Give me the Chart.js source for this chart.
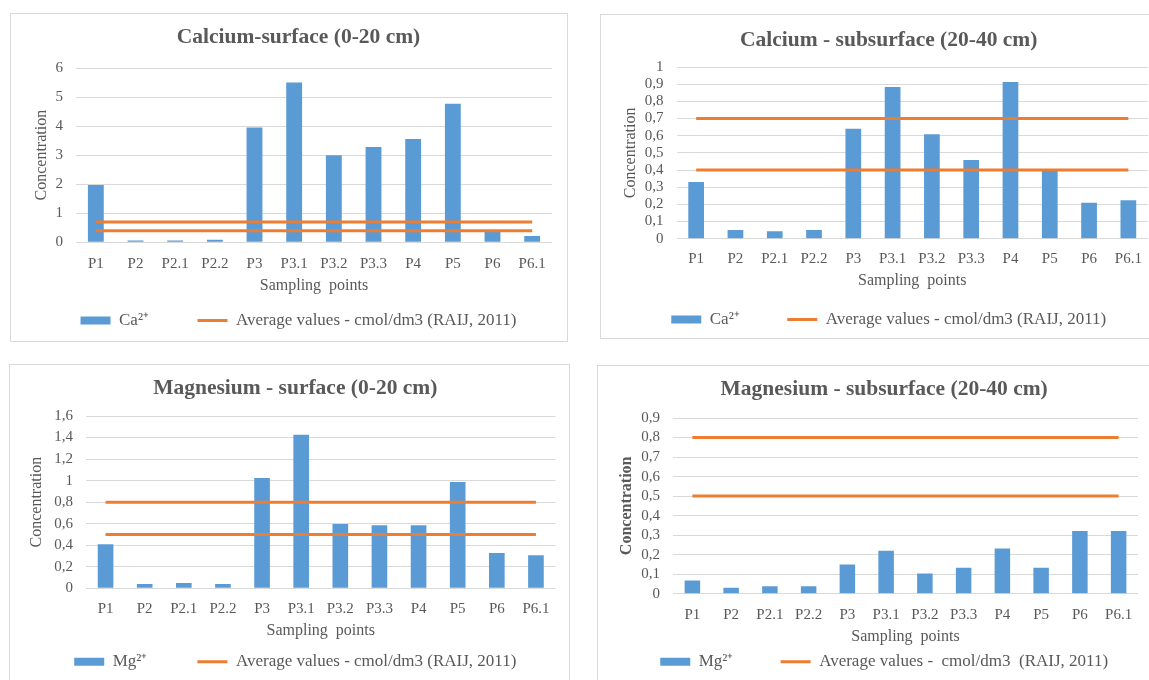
<!DOCTYPE html>
<html>
<head>
<meta charset="utf-8">
<title>Calcium and magnesium in soil samples</title>
<script src="https://cdn.jsdelivr.net/npm/chart.js@4.4.1/dist/chart.umd.min.js"></script>
<style>
  html, body { margin: 0; padding: 0; background: #ffffff; width: 1149px; height: 680px; overflow: hidden; position: relative; }
  canvas { position: absolute; }
  .frame { position: absolute; border: 1px solid #d9d9d9; box-sizing: border-box; pointer-events: none; }
</style>
</head>
<body>
<canvas id="caSurface"></canvas>
<canvas id="caSubsurface"></canvas>
<canvas id="mgSurface"></canvas>
<canvas id="mgSubsurface"></canvas>
<script>
// Sampling points (x categories)
const categories = ['P1', 'P2', 'P2.1', 'P2.2', 'P3', 'P3.1', 'P3.2', 'P3.3', 'P4', 'P5', 'P6', 'P6.1'];

// Calcium, 0-20 cm
const calciumSurface = [1.97, 0.06, 0.06, 0.09, 3.95, 5.5, 3.0, 3.28, 3.56, 4.77, 0.38, 0.22];
const calciumSurfaceUpper = [0.7, 0.7, 0.7, 0.7, 0.7, 0.7, 0.7, 0.7, 0.7, 0.7, 0.7, 0.7];
const calciumSurfaceLower = [0.4, 0.4, 0.4, 0.4, 0.4, 0.4, 0.4, 0.4, 0.4, 0.4, 0.4, 0.4];

// Calcium, 20-40 cm
const calciumSubsurface = [0.33, 0.05, 0.044, 0.05, 0.64, 0.884, 0.608, 0.458, 0.912, 0.40, 0.21, 0.224];
const calciumSubsurfaceUpper = [0.7, 0.7, 0.7, 0.7, 0.7, 0.7, 0.7, 0.7, 0.7, 0.7, 0.7, 0.7];
const calciumSubsurfaceLower = [0.4, 0.4, 0.4, 0.4, 0.4, 0.4, 0.4, 0.4, 0.4, 0.4, 0.4, 0.4];

// Magnesium, 0-20 cm
const magnesiumSurface = [0.41, 0.04, 0.05, 0.04, 1.025, 1.425, 0.597, 0.585, 0.585, 0.987, 0.328, 0.306];
const magnesiumSurfaceUpper = [0.8, 0.8, 0.8, 0.8, 0.8, 0.8, 0.8, 0.8, 0.8, 0.8, 0.8, 0.8];
const magnesiumSurfaceLower = [0.5, 0.5, 0.5, 0.5, 0.5, 0.5, 0.5, 0.5, 0.5, 0.5, 0.5, 0.5];

// Magnesium, 20-40 cm
const magnesiumSubsurface = [0.067, 0.031, 0.038, 0.038, 0.149, 0.22, 0.104, 0.133, 0.232, 0.133, 0.321, 0.321];
const magnesiumSubsurfaceUpper = [0.8, 0.8, 0.8, 0.8, 0.8, 0.8, 0.8, 0.8, 0.8, 0.8, 0.8, 0.8];
const magnesiumSubsurfaceLower = [0.5, 0.5, 0.5, 0.5, 0.5, 0.5, 0.5, 0.5, 0.5, 0.5, 0.5, 0.5];

// Y axis ranges [max, step]
const caSurfaceAxis = [6, 1];
const caSubsurfaceAxis = [1, 0.1];
const mgSurfaceAxis = [1.6, 0.2];
const mgSubsurfaceAxis = [0.9, 0.1];

// ---- styling ----
const FONT = '"Liberation Serif", "Times New Roman", serif';
const TEXT = '#595959';
const GRID = '#d9d9d9';
const BAR = '#5b9bd5';
const REF = '#ed7d31';
const SIZE = { title: 21.5, tick: 15, axisTitle: 16, legend: 17 };
const MARK_W = 30;

Chart.defaults.font.family = FONT;
Chart.defaults.color = TEXT;

const commaTick = (v) => String(Number(v.toFixed(2))).replace('.', ',');

// frame: page geometry of the bordered box, the plot rectangle and text anchors
function drawPanel(canvasId, frame, spec) {
  const [bx0, by0, bx1, by1] = frame.box;
  const W = bx1 - bx0, H = by1 - by0;
  const canvas = document.getElementById(canvasId);
  canvas.width = W; canvas.height = H;
  canvas.style.left = bx0 + 'px'; canvas.style.top = by0 + 'px';
  canvas.style.width = W + 'px'; canvas.style.height = H + 'px';

  const border = document.createElement('div');
  border.className = 'frame';
  Object.assign(border.style, { left: bx0 + 'px', top: by0 + 'px', width: W + 'px', height: H + 'px' });
  document.body.appendChild(border);

  const plotL = frame.plot[0] - bx0, plotT = frame.plot[1] - by0;
  const plotR = frame.plot[2] - bx0, plotB = frame.plot[3] - by0;

  // legend row: two items separated by a wide gap
  const ctx = canvas.getContext('2d');
  ctx.font = SIZE.legend + 'px ' + FONT;
  const item1 = MARK_W + SIZE.legend / 2 + ctx.measureText(spec.barLabel).width;
  const item2 = MARK_W + SIZE.legend / 2 + ctx.measureText(spec.refLabel).width;
  const gap = frame.legendX[1] - frame.legendX[0] - item1;
  const legendMid = frame.legendX[0] - bx0 + (item1 + gap + item2) / 2;

  // title and legend share one horizontal band centred here
  const mid = (frame.titleX - bx0 + legendMid) / 2;
  const padLeft = mid - W;
  const padRight = W - (mid + W);

  // the label padding doubles as the item gap; an empty legend title of
  // negative height takes that space back so the legend box stays compact
  const legendTitleFont = 2;
  const legendTitlePad = -(legendTitleFont * 1.2 + gap);
  const legendH = SIZE.legend + 10;
  const padBottom = H - (frame.legendY - by0) - SIZE.legend / 2 - 10;
  const legendTop = H - padBottom - legendH;

  const titleLH = SIZE.title * 1.2;
  const titleTop = frame.titleY - by0 - titleLH / 2;
  const titleBottom = plotT - titleTop - titleLH;

  const axisLH = SIZE.axisTitle * 1.2;
  const tickLH = SIZE.tick * 1.2;
  const xTickPad = frame.xTickY - frame.plot[3] - tickLH / 2 - 6;
  const xTitlePad = legendTop - axisLH / 2 - (frame.xTitleY - by0);
  const yTitlePad = (frame.yTitleX - bx0) - padLeft - axisLH / 2;

  return new Chart(canvas, {
    data: {
      labels: categories,
      datasets: [
        { type: 'bar', label: spec.barLabel, data: spec.values, backgroundColor: BAR,
          barPercentage: 0.4, categoryPercentage: 1, order: 1 },
        { type: 'line', label: spec.refLabel, data: spec.upper, borderColor: REF, backgroundColor: REF,
          borderWidth: 3, pointRadius: 0, fill: false, order: 0 },
        { type: 'line', label: spec.refLabel, data: spec.lower, borderColor: REF, backgroundColor: REF,
          borderWidth: 3, pointRadius: 0, fill: false, order: 0 }
      ]
    },
    options: {
      responsive: false,
      animation: false,
      devicePixelRatio: 1,
      layout: { padding: { left: padLeft, right: padRight, top: 0, bottom: padBottom } },
      plugins: {
        tooltip: { enabled: false },
        title: {
          display: true, text: spec.title, color: TEXT,
          font: { family: FONT, size: SIZE.title, weight: 'bold' },
          padding: { top: titleTop, bottom: titleBottom }
        },
        legend: {
          position: 'bottom', align: 'center',
          title: { display: true, text: '', font: { size: legendTitleFont }, padding: { top: 0, bottom: legendTitlePad } },
          labels: {
            usePointStyle: true, pointStyleWidth: MARK_W, boxHeight: 8, padding: gap,
            color: TEXT, font: { family: FONT, size: SIZE.legend },
            generateLabels: (chart) => chart.data.datasets.slice(0, 2).map((ds, i) => ({
              text: ds.label, datasetIndex: i, hidden: false, fontColor: TEXT,
              fillStyle: i === 0 ? ds.backgroundColor : ds.borderColor,
              strokeStyle: i === 0 ? ds.backgroundColor : ds.borderColor,
              lineWidth: i === 0 ? 0 : 3,
              pointStyle: i === 0 ? 'rect' : 'line'
            }))
          }
        }
      },
      scales: {
        x: {
          type: 'category', offset: true,
          grid: { display: false }, border: { display: false },
          ticks: { color: TEXT, font: { family: FONT, size: SIZE.tick }, padding: xTickPad, maxRotation: 0, autoSkip: false },
          title: { display: true, text: spec.xTitle, color: TEXT,
                   font: { family: FONT, size: SIZE.axisTitle }, padding: { top: 0, bottom: xTitlePad } },
          afterFit: (s) => { s.height = legendTop - plotB; }
        },
        y: {
          type: 'linear', position: 'left', min: 0, max: spec.axis[0],
          grid: { color: GRID, lineWidth: 1, drawTicks: false }, border: { display: false },
          ticks: { stepSize: spec.axis[1], autoSkip: false, color: TEXT, padding: 13,
                   font: { family: FONT, size: SIZE.tick }, callback: commaTick },
          title: { display: true, text: spec.yTitle, color: TEXT,
                   font: { family: FONT, size: SIZE.axisTitle, weight: spec.yTitleBold ? 'bold' : 'normal' },
                   padding: { top: yTitlePad, bottom: 0 } },
          afterFit: (s) => { s.width = plotL - padLeft; }
        },
        frameRight: {
          type: 'linear', position: 'right', display: true,
          grid: { display: false }, border: { display: false }, ticks: { display: false },
          afterFit: (s) => { s.width = (W - padRight) - plotR; }
        }
      }
    }
  });
}

drawPanel('caSurface',
  { box: [10, 13, 568, 342], plot: [76, 68, 552, 242.3], titleX: 294, titleY: 37, yTitleX: 42,
    xTickY: 262, xTitleY: 286, legendY: 320.5, legendX: [85, 202] },
  { title: 'Calcium-surface (0-20 cm)', barLabel: 'Ca²⁺', refLabel: 'Average values - cmol/dm3 (RAIJ, 2011)',
    xTitle: 'Sampling  points', yTitle: 'Concentration', yTitleBold: false,
    values: calciumSurface, upper: calciumSurfaceUpper, lower: calciumSurfaceLower, axis: caSurfaceAxis });

drawPanel('caSubsurface',
  { box: [600, 14, 1165, 339], plot: [676.5, 67, 1148, 238.7], titleX: 881, titleY: 40, yTitleX: 631,
    xTickY: 257.5, xTitleY: 281, legendY: 319.5, legendX: [679, 795] },
  { title: 'Calcium - subsurface (20-40 cm)', barLabel: 'Ca²⁺', refLabel: 'Average values - cmol/dm3 (RAIJ, 2011)',
    xTitle: 'Sampling  points', yTitle: 'Concentration', yTitleBold: false,
    values: calciumSubsurface, upper: calciumSubsurfaceUpper, lower: calciumSubsurfaceLower, axis: caSubsurfaceAxis });

drawPanel('mgSurface',
  { box: [9, 364, 570, 686], plot: [86, 416, 555.5, 588.3], titleX: 290, titleY: 388.5, yTitleX: 36.6,
    xTickY: 607.3, xTitleY: 630.7, legendY: 661.7, legendX: [79.5, 202.7] },
  { title: 'Magnesium - surface (0-20 cm)', barLabel: 'Mg²⁺', refLabel: 'Average values - cmol/dm3 (RAIJ, 2011)',
    xTitle: 'Sampling  points', yTitle: 'Concentration', yTitleBold: false,
    values: magnesiumSurface, upper: magnesiumSurfaceUpper, lower: magnesiumSurfaceLower, axis: mgSurfaceAxis });

drawPanel('mgSubsurface',
  { box: [597, 365, 1165, 686], plot: [673, 418, 1138, 593.7], titleX: 878, titleY: 389.3, yTitleX: 627,
    xTickY: 612.7, xTitleY: 637, legendY: 661.7, legendX: [666.4, 786.8] },
  { title: 'Magnesium - subsurface (20-40 cm)', barLabel: 'Mg²⁺', refLabel: 'Average values -  cmol/dm3  (RAIJ, 2011)',
    xTitle: 'Sampling  points', yTitle: 'Concentration', yTitleBold: true,
    values: magnesiumSubsurface, upper: magnesiumSubsurfaceUpper, lower: magnesiumSubsurfaceLower, axis: mgSubsurfaceAxis });
</script>
</body>
</html>
